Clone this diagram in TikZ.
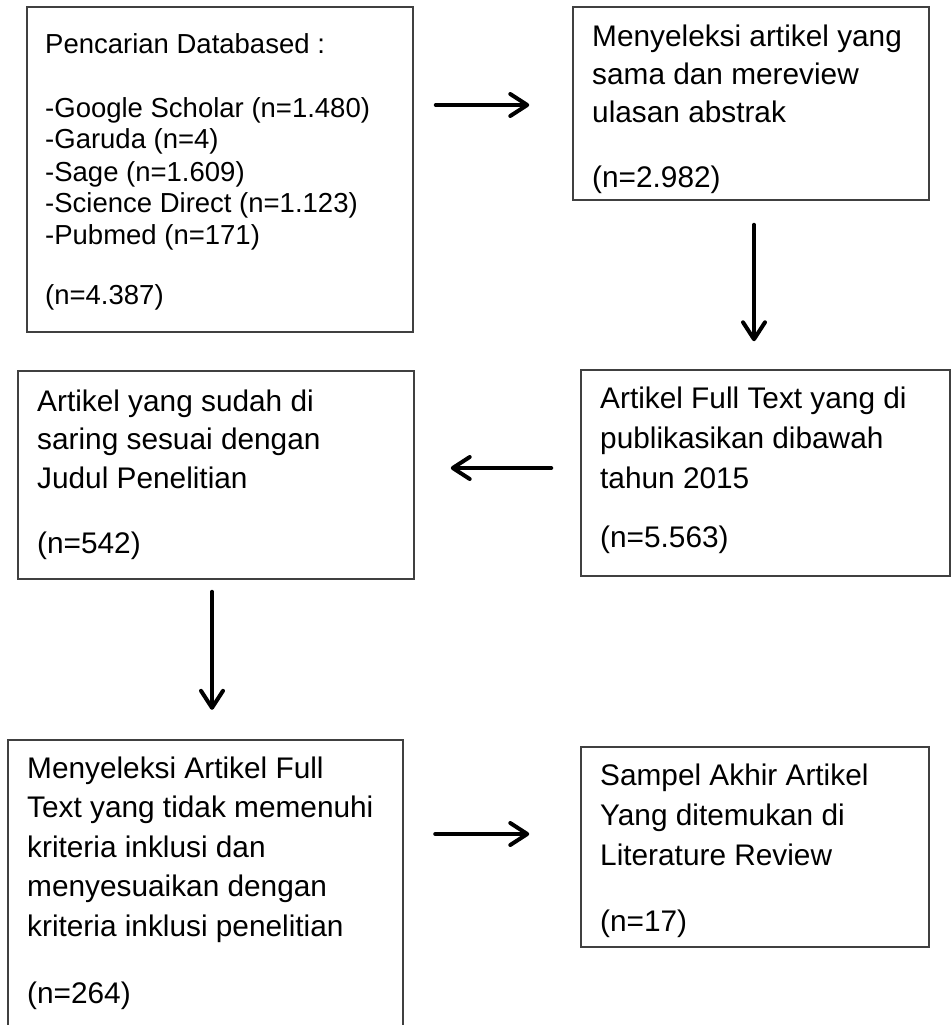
\documentclass[tikz,border=0pt]{standalone}
\usepackage{fontspec}
\setmainfont{Liberation Sans}
\usetikzlibrary{arrows.meta,calc}
\definecolor{boxgray}{HTML}{404040}
\newcommand\fsA{\fontsize{27.5}{32}\selectfont}
\newcommand\fsB[1]{\fontsize{29.8}{#1}\selectfont}
\begin{document}
\begin{tikzpicture}[x=1pt,y=-1pt,
  box/.style={draw=boxgray, line width=1.5pt, inner sep=0pt, rectangle},
  openbox/.style={inner sep=0pt, rectangle},
  boxline/.style={draw=boxgray, line width=1.5pt},
  txt/.style={anchor=base west, inner sep=0pt, text=black},
  arr/.style={line width=4pt, line cap=round, -{Straight Barb[length=17pt,width=22pt,round]}}]
\path[use as bounding box, fill=white] (0,0) rectangle (952,1025);
% boxes
\node[box, minimum width=386pt, minimum height=325pt] (b1) at (220,169.5) {};
\node[box, minimum width=356pt, minimum height=193pt] (b2) at (751,103.5) {};
\node[box, minimum width=369pt, minimum height=206pt] (b3) at (765.5,473) {};
\node[box, minimum width=396pt, minimum height=208pt] (b4) at (216,475) {};
\node[openbox, minimum width=395pt, minimum height=285pt] (b5) at (205.5,882.5) {};
\draw[boxline] (b5.south west) -- (b5.north west) -- (b5.north east) -- (b5.south east);
\node[box, minimum width=348pt, minimum height=200pt] (b6) at (755,847) {};
% texts
\node[txt, font=\fsA] (t1) at (45,54) {\begin{tabular}[t]{@{}l@{}}Pencarian Databased :\\[31pt]
-Google Scholar (n=1.480)\\
-Garuda (n=4)\\
-Sage (n=1.609)\\
-Science Direct (n=1.123)\\
-Pubmed (n=171)\\[28pt]
(n=4.387)\end{tabular}};
\node[txt, font=\fsB{38}] (t2) at (592,47) {\begin{tabular}[t]{@{}l@{}}Menyeleksi artikel yang\\
sama dan mereview\\
ulasan abstrak\\[27pt]
(n=2.982)\end{tabular}};
\node[txt, font=\fsB{40}] (t3) at (600,408) {\begin{tabular}[t]{@{}l@{}}Artikel Full Text yang di\\
publikasikan dibawah\\
tahun 2015\\[19pt]
(n=5.563)\end{tabular}};
\node[txt, font=\fsB{38.5}] (t4) at (37,411) {\begin{tabular}[t]{@{}l@{}}Artikel yang sudah di\\
saring sesuai dengan\\
Judul Penelitian\\[26.5pt]
(n=542)\end{tabular}};
\node[txt, font=\fsB{39.5}] (t5) at (27,778) {\begin{tabular}[t]{@{}l@{}}Menyeleksi Artikel Full\\
Text yang tidak memenuhi\\
kriteria inklusi dan\\
menyesuaikan dengan\\
kriteria inklusi penelitian\\[27.5pt]
(n=264)\end{tabular}};
\node[txt, font=\fsB{40}] (t6) at (600,785) {\begin{tabular}[t]{@{}l@{}}Sampel Akhir Artikel\\
Yang ditemukan di\\
Literature Review\\[26pt]
(n=17)\end{tabular}};
% arrows
\draw[arr, shorten <=22pt, shorten >=43pt] ([yshift=-1.5pt]b1.east |- b2.center) -- ([yshift=-1.5pt]b2.west);
\draw[arr, shorten <=24pt, shorten >=28pt] ([xshift=3pt]b2.south) -- ([xshift=3pt]b2.south |- b3.north);
\draw[arr, shorten <=29pt, shorten >=36pt] ([yshift=5pt]b3.west) -- ([yshift=5pt]b3.west -| b4.east);
\draw[arr, shorten <=12pt, shorten >=30pt] ([xshift=-4pt]b4.south) -- ([xshift=-4pt]b4.south |- b5.north);
\draw[arr, shorten <=32pt, shorten >=51pt] ([yshift=13pt]b6.west -| b5.east) -- ([yshift=13pt]b6.west);
\end{tikzpicture}
\end{document}
